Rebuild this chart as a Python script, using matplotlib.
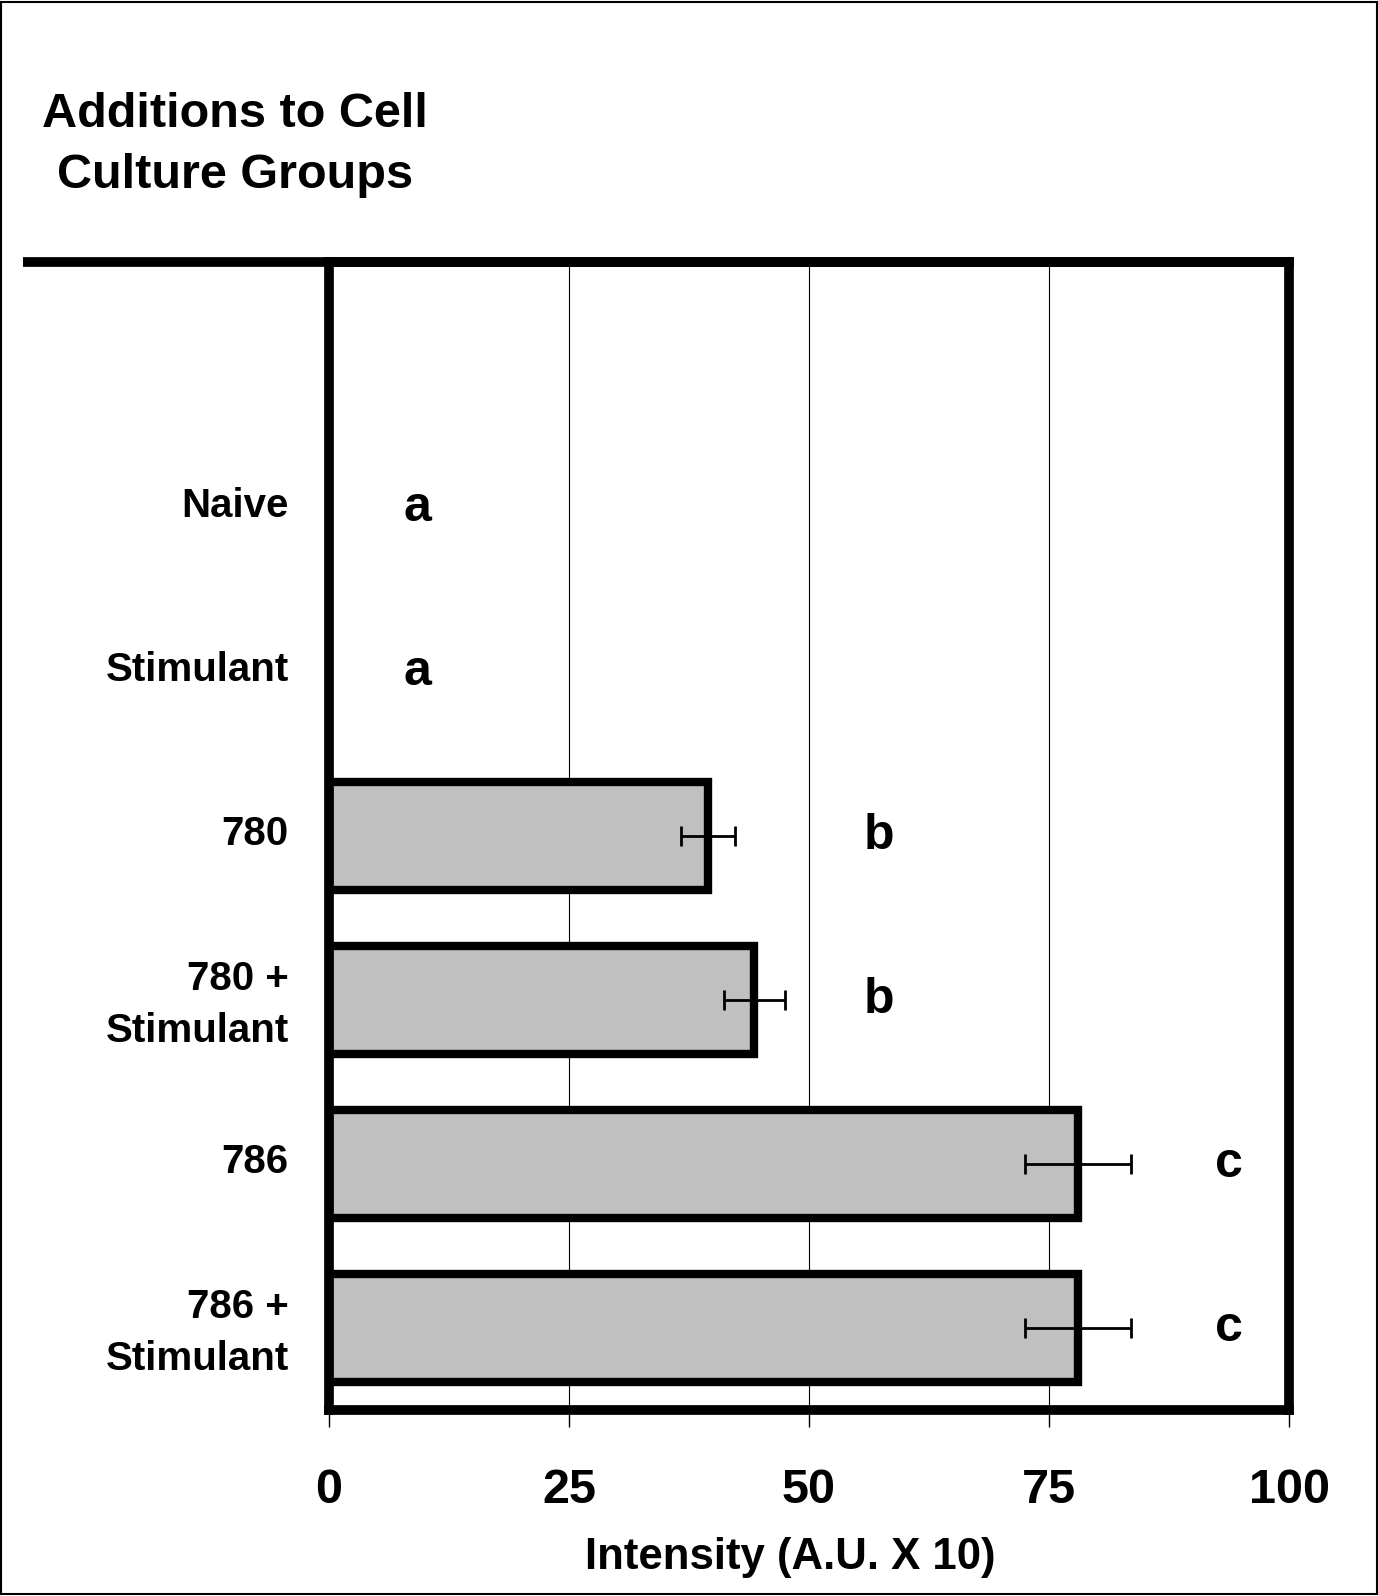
import numpy as np
import matplotlib
matplotlib.use("Agg")
import matplotlib.pyplot as plt
import matplotlib.transforms as mtransforms
from matplotlib.lines import Line2D
from matplotlib.patches import Rectangle

plt.rcParams['font.family'] = ['Liberation Sans', 'DejaVu Sans']
plt.rcParams['font.weight'] = 'bold'

# data
categories = ['Naive', 'Stimulant', '780', '780 +\nStimulant', '786', '786 +\nStimulant']
intensity = [0, 0, 39.5, 44.3, 78.0, 78.0]
errors = [0, 0, 2.8, 3.2, 5.5, 5.5]
letters = ['a', 'a', 'b', 'b', 'c', 'c']
letter_x = [9.2, 9.2, 57.3, 57.3, 93.7, 93.7]
xticks = [0, 25, 50, 75, 100]

W, H = 1378, 1596
fig = plt.figure(figsize=(W / 100, H / 100), dpi=100)

left, right, top, bottom = 329 / W, 1289 / W, 1 - 262 / H, 1 - 1410 / H
ax = fig.add_axes([left, bottom, right - left, top - bottom])

y = np.arange(1, len(categories) + 1)

# gridlines behind bars
for t in xticks[1:-1]:
    ax.axvline(t, color='black', lw=0.8, zorder=0)

lws = [6 if v > 0 else 0 for v in intensity]
ax.barh(y, intensity, height=0.66, color='#c0c0c0', edgecolor='black',
        linewidth=lws, zorder=2)

for yi, v, e in zip(y, intensity, errors):
    if e > 0:
        ax.errorbar(v, yi, xerr=e, fmt='none', ecolor='black', elinewidth=2,
                    capsize=7.5, capthick=2, zorder=3)

for yi, lt, lx in zip(y, letters, letter_x):
    ax.text(lx, yi, lt, ha='center', va='center', fontsize=36,
            fontweight='bold')

ax.set_xlim(0, 100)
ax.set_ylim(len(categories) + 0.5, -0.5)
ax.set_yticks(y)
ax.set_yticklabels(categories, fontsize=29, fontweight='bold', ha='right',
                   linespacing=1.45)
ax.tick_params(axis='y', length=0, pad=29)
# labels sit a little above the bar centres
shift = mtransforms.ScaledTranslation(0, 6 / 100, fig.dpi_scale_trans)
for lbl in ax.get_yticklabels():
    lbl.set_transform(lbl.get_transform() + shift)
ax.set_xticks(xticks)
ax.set_xticklabels([str(t) for t in xticks], fontsize=35, fontweight='bold')
ax.tick_params(axis='x', direction='out', length=12, width=1, pad=30)

for s in ax.spines.values():
    s.set_linewidth(7)
    s.set_zorder(4)

# top line extending to the left
fig.add_artist(Line2D([23 / W, right], [top, top], color='black', lw=7,
                      solid_capstyle='butt'))

# outer frame
fig.add_artist(Rectangle((0.001, 0.001), 0.998, 0.998, transform=fig.transFigure,
                         fill=False, edgecolor='black', lw=1.5))

fig.text(235 / W, 1 - 145 / H, "Additions to Cell\nCulture Groups",
         ha='center', va='center', fontsize=35, fontweight='bold',
         linespacing=1.45)

fig.text(790 / W, 1 - 1557 / H, "Intensity (A.U. X 10)", ha='center',
         va='center', fontsize=31.5, fontweight='bold')

fig.savefig('out.png', dpi=100)
